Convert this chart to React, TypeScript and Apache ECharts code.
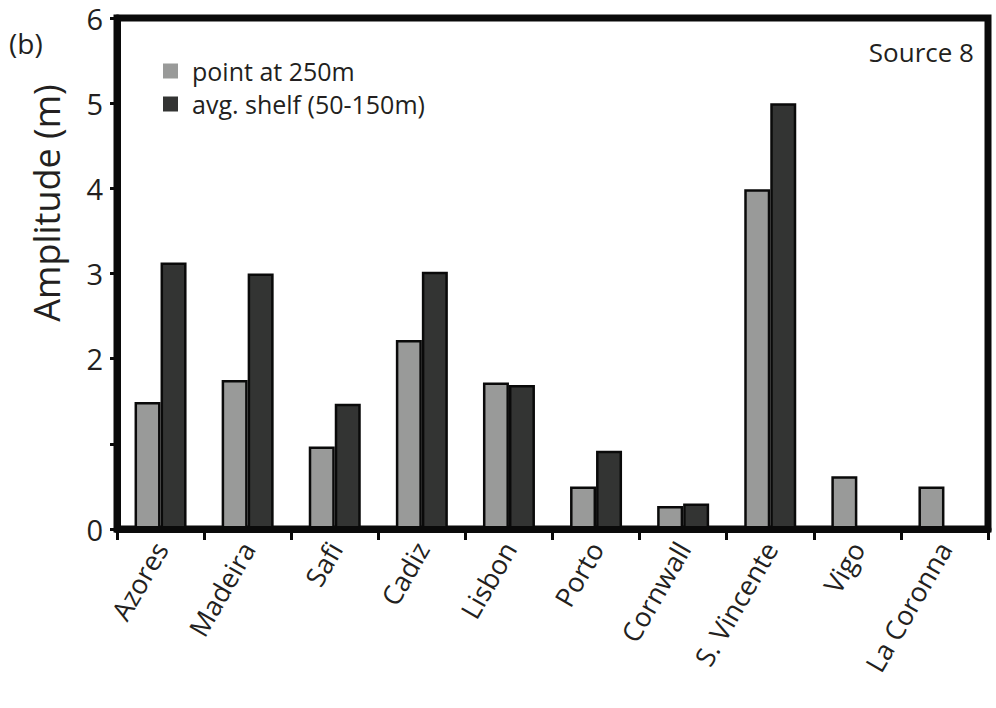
import React, { useEffect, useRef } from "react";
import * as echarts from "echarts";

// Stations along the Atlantic margin
const categories = [
  "Azores",
  "Madeira",
  "Safi",
  "Cadiz",
  "Lisbon",
  "Porto",
  "Cornwall",
  "S. Vincente",
  "Vigo",
  "La Coronna",
];

// Wave amplitude (m) at the 250 m isobath
const pointAt250 = [1.49, 1.75, 0.97, 2.22, 1.72, 0.5, 0.27, 3.99, 0.62, 0.5];

// Wave amplitude (m) averaged over the shelf, 50-150 m depth
const avgShelf = [3.13, 3.0, 1.47, 3.02, 1.69, 0.92, 0.3, 5.0, null, null];

// Only these ticks carry a label
const labelledTicks = [0, 2, 3, 4, 5, 6];

const TEXT = "#231f20";
const FONT = "'Open Sans', 'Noto Sans', sans-serif";

export default function App() {
  const ref = useRef<HTMLDivElement>(null);

  useEffect(() => {
    if (!ref.current) return;
    const chart = echarts.init(ref.current, undefined, { renderer: "svg" });

    chart.setOption({
      animation: false,
      backgroundColor: "#ffffff",
      textStyle: { fontFamily: FONT, color: TEXT },
      grid: {
        left: 117,
        right: 8,
        top: 18,
        bottom: 179,
        show: true,
        borderColor: "#0a0a0a",
        borderWidth: 7,
      },
      legend: {
        orient: "vertical",
        left: 163,
        top: 58,
        padding: 0,
        itemWidth: 15,
        itemHeight: 15,
        itemGap: 7,
        icon: "rect",
        itemStyle: { borderWidth: 0 },
        textStyle: {
          fontSize: 25,
          lineHeight: 26,
          color: TEXT,
          fontFamily: FONT,
          padding: [0, 0, 0, 9],
        },
        data: ["point at 250m", "avg. shelf (50-150m)"],
      },
      xAxis: {
        type: "category",
        data: categories,
        z: 10,
        axisLine: { lineStyle: { color: "#0a0a0a", width: 7 } },
        axisTick: { show: true, length: 11, lineStyle: { color: "#0a0a0a", width: 3 } },
        axisLabel: {
          interval: 0,
          rotate: 60,
          margin: 15,
          fontSize: 27,
          color: TEXT,
          fontFamily: FONT,
        },
      },
      yAxis: {
        type: "value",
        min: 0,
        max: 6,
        interval: 1,
        z: 10,
        splitLine: { show: false },
        axisLine: { show: true, lineStyle: { color: "#0a0a0a", width: 7 } },
        axisTick: { show: true, length: 7, lineStyle: { color: "#0a0a0a", width: 3 } },
        axisLabel: {
          margin: 14,
          fontSize: 29,
          lineHeight: 29,
          color: TEXT,
          fontFamily: FONT,
          formatter: (v: number) => (labelledTicks.includes(v) ? String(v) : ""),
        },
      },
      series: [
        {
          name: "point at 250m",
          type: "bar",
          data: pointAt250,
          barWidth: 26,
          barGap: "0%",
          itemStyle: { color: "#999a99", borderColor: "#0a0a0a", borderWidth: 2.5 },
        },
        {
          name: "avg. shelf (50-150m)",
          type: "bar",
          data: avgShelf,
          barWidth: 26,
          barGap: "0%",
          itemStyle: { color: "#333433", borderColor: "#0a0a0a", borderWidth: 2.5 },
        },
      ],
      graphic: [
        {
          type: "text",
          x: 9,
          y: 43,
          style: {
            text: "(b)",
            fontSize: 28,
            fontFamily: FONT,
            fill: TEXT,
            textVerticalAlign: "middle",
          },
        },
        {
          type: "text",
          x: 46,
          y: 203,
          rotation: Math.PI / 2,
          style: {
            text: "Amplitude (m)",
            fontSize: 36,
            fontFamily: FONT,
            fill: TEXT,
            textAlign: "center",
            textVerticalAlign: "middle",
          },
        },
        {
          type: "text",
          x: 974,
          y: 52,
          style: {
            text: "Source 8",
            fontSize: 26,
            fontFamily: FONT,
            fill: TEXT,
            textAlign: "right",
            textVerticalAlign: "middle",
          },
        },
      ],
    });

    return () => chart.dispose();
  }, []);

  return (
    <div
      ref={ref}
      style={{ position: "fixed", left: 0, top: 0, width: 996, height: 708 }}
    />
  );
}
